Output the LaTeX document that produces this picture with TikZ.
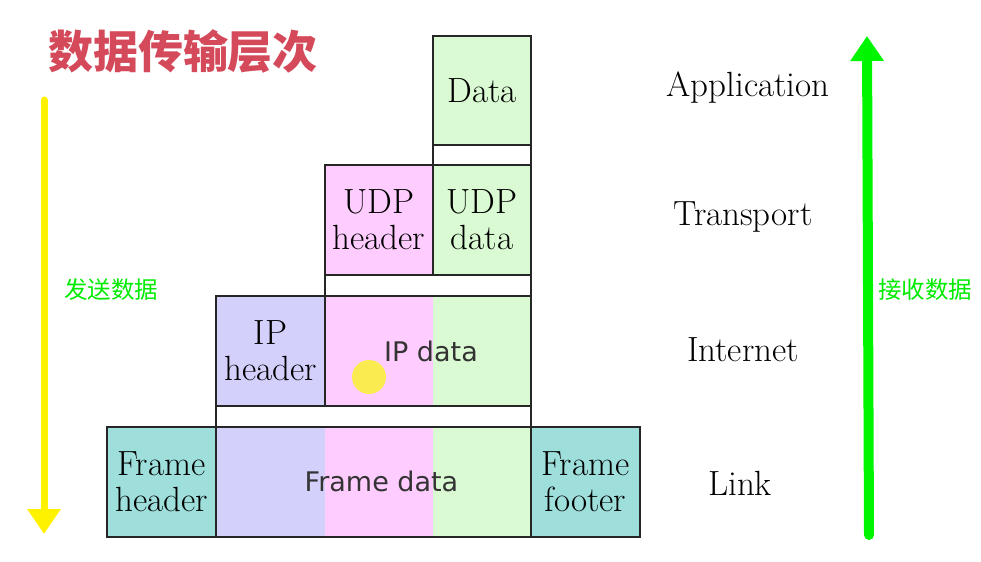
\documentclass[tikz,border=0pt]{standalone}
\usepackage{fontspec}
\usepackage{tikz}
\usetikzlibrary{arrows.meta, positioning}
\newfontfamily\cjk{Noto Sans CJK SC}
\newfontfamily\dejavu{DejaVu Sans}
\definecolor{lavfill}{RGB}{212,208,252}
\definecolor{pinkfill}{RGB}{255,204,255}
\definecolor{grnfill}{RGB}{217,250,210}
\definecolor{tealfill}{RGB}{158,222,219}
\definecolor{titlered}{RGB}{212,74,90}
\definecolor{sendyellow}{RGB}{255,242,0}
\definecolor{recvgreen}{RGB}{0,245,0}
\definecolor{cursoryellow}{RGB}{250,236,80}

\begin{document}
\begin{tikzpicture}[x=0.5pt, y=-0.5pt,
    cell/.style={draw=black!85, line width=1pt, inner sep=0pt, align=center,
      minimum height=55pt, font=\fontsize{17.5}{18}\selectfont},
    gapbox/.style={draw=black!85, line width=1pt, fill=white},
    sansdata/.style={font=\dejavu\fontsize{13.5}{16}\selectfont, text=black!80},
    layer/.style={font=\fontsize{17.5}{20}\selectfont},
    flowlabel/.style={font=\cjk\fontsize{11.75}{14}\selectfont, text=recvgreen!96!black},
    flowarrow/.style={line width=#1, line cap=round, -{Triangle[width=16pt,length=12.5pt]}}]
  \useasboundingbox (0,0) rectangle (981,562);

  % Title
  \node[font=\cjk\bfseries\fontsize{22.5}{27}\selectfont, text=titlered] (title) at (183,51) {数据传输层次};

  % Application
  \node[cell, fill=grnfill, minimum width=49pt] (data) at (482,90.5) {Data};
  \draw[gapbox] (433,145) rectangle (531,165);

  % Transport
  \node[cell, fill=pinkfill, minimum width=54pt] (udphead) at (379,220) {UDP\\header};
  \node[cell, fill=grnfill, minimum width=49pt] (udpdata) at (482,220) {UDP\\data};
  \draw[gapbox] (325,275) rectangle (531,296);

  % Internet
  \node[cell, fill=lavfill, minimum width=54.5pt] (iphead) at (270.5,351) {IP\\header};
  \fill[pinkfill] (325,296) rectangle (433,406);
  \fill[grnfill] (433,296) rectangle (531,406);
  \fill[cursoryellow] (369,377) circle (8.5pt);
  \node[cell, sansdata, minimum width=103pt] (ipdata) at (428,351) {\hspace{3pt}IP data};
  \draw[gapbox] (216,406) rectangle (531,427);

  % Link
  \node[cell, fill=tealfill, minimum width=54.5pt] (framehead) at (161.5,481.5) {Frame\\header};
  \fill[lavfill] (216,427) rectangle (325,536);
  \fill[pinkfill] (325,427) rectangle (433,536);
  \fill[grnfill] (433,427) rectangle (531,536);
  \node[cell, sansdata, minimum width=157.5pt] (framedata) at (373.5,481.5) {\hspace{8pt}Frame data};
  \node[cell, fill=tealfill, minimum width=54.5pt] (framefoot) at (585.5,481.5) {Frame\\footer};

  % Layer names
  \node[layer] (app) at (748,88) {Application};
  \node[layer] (trans) at (743,217) {Transport};
  \node[layer] (inet) at (743,350) {Internet};
  \node[layer] (link) at (740,483) {Link};

  % Send / receive direction
  \coordinate (sendtop) at (44,100);
  \coordinate (sendbot) at (44,534);
  \draw[flowarrow=3.5pt, sendyellow] (sendtop) -- (sendbot);
  \node[flowlabel] (sendlabel) at (111,290) {发送数据};

  \coordinate (recvbot) at (869,535);
  \coordinate (recvtop) at (867,36);
  \draw[flowarrow=5pt, recvgreen] (recvbot) -- (recvtop);
  \node[flowlabel] (recvlabel) at (925,290) {接收数据};
\end{tikzpicture}
\end{document}
